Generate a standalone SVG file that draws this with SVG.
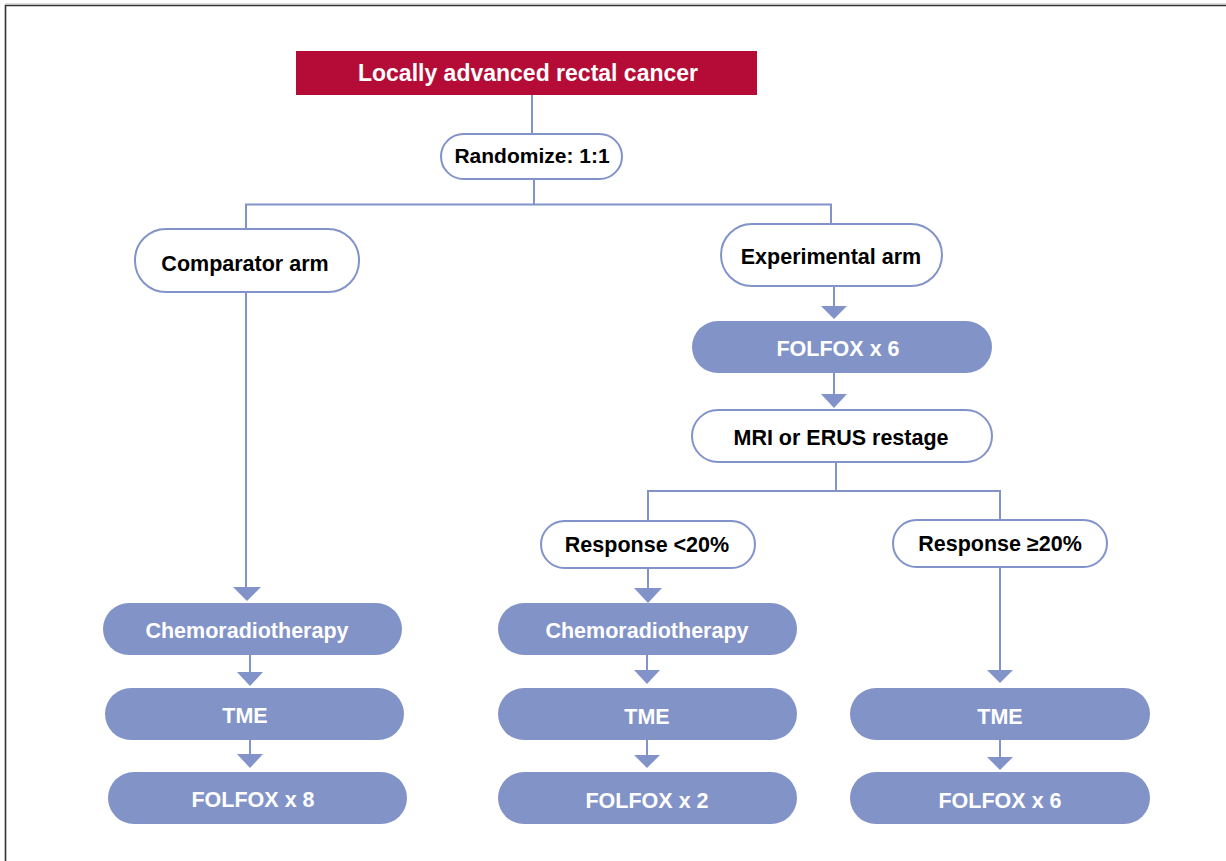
<svg xmlns="http://www.w3.org/2000/svg" width="1226" height="861" viewBox="0 0 1226 861">
<defs>
<style>
.frame{stroke:#333;stroke-width:1.6;fill:none}
.ln{stroke:#8193c9;stroke-width:2;fill:none}
.ah{fill:#8193c9}
.out{fill:#fff;stroke:#8193c9;stroke-width:2}
.fill{fill:#8293c8}
.red{fill:#b40c37}
text{font-family:"Liberation Sans",Arial,sans-serif;font-weight:bold;text-anchor:middle}
.tb{fill:#000;font-size:21.5px}
.tw{fill:#fff;font-size:21.5px}
</style>
</defs>
<rect width="1226" height="861" fill="#fff"/>
<line x1="5" y1="3.8" x2="1226" y2="3.8" stroke="#ccc" stroke-width="1"/>
<path class="frame" d="M5.5,861 V5.5 H1226"/>

<g id="connectors">
<path class="ln" d="M532,95 V134"/>
<path class="ln" d="M534,179 V204.5"/>
<path class="ln" d="M246,229 V204.5 H831 V224"/>
<path class="ln" d="M246,292 V588"/>
<polygon class="ah" points="233,587 261,587 247,601"/>
<path class="ln" d="M250,655 V673"/>
<polygon class="ah" points="237,672 263,672 250,686"/>
<path class="ln" d="M250,740 V755"/>
<polygon class="ah" points="237,754 263,754 250,768"/>
<path class="ln" d="M834,286 V307"/>
<polygon class="ah" points="821,306 847,306 834,319"/>
<path class="ln" d="M834,373 V395"/>
<polygon class="ah" points="821,394 847,394 834,408"/>
<path class="ln" d="M836,462 V491"/>
<path class="ln" d="M648,521 V491 H1000 V520"/>
<path class="ln" d="M648,568 V589"/>
<polygon class="ah" points="634,588 662,588 648,603"/>
<path class="ln" d="M647,655 V671"/>
<polygon class="ah" points="634,670 660,670 647,684"/>
<path class="ln" d="M647,740 V756"/>
<polygon class="ah" points="634,755 660,755 647,768"/>
<path class="ln" d="M1000,567 V671"/>
<polygon class="ah" points="987,670 1013,670 1000,683"/>
<path class="ln" d="M1000,740 V758"/>
<polygon class="ah" points="987,757 1013,757 1000,770"/>
</g>

<g id="n-title">
<rect class="red" x="296" y="51" width="461" height="44"/>
<text x="528" y="81" fill="#fff" style="font-size:23px">Locally advanced rectal cancer</text>
</g>
<g id="n-randomize">
<rect class="out" x="441" y="134" width="181" height="45" rx="22.5"/>
<text class="tb" x="532" y="163" style="font-size:21px">Randomize: 1:1</text>
</g>
<g id="n-comparator">
<rect class="out" x="135" y="229" width="224" height="63" rx="31"/>
<text class="tb" x="245" y="270.5">Comparator arm</text>
</g>
<g id="n-experimental">
<rect class="out" x="721" y="224" width="221" height="62" rx="31"/>
<text class="tb" x="831" y="263.5">Experimental arm</text>
</g>
<g id="n-folfox6a">
<rect class="fill" x="692" y="321" width="300" height="52" rx="26"/>
<text class="tw" x="838" y="355.5">FOLFOX x 6</text>
</g>
<g id="n-mri">
<rect class="out" x="692" y="410" width="300" height="52" rx="26"/>
<text class="tb" x="841" y="444.5">MRI or ERUS restage</text>
</g>
<g id="n-resp-lt">
<rect class="out" x="541" y="521" width="214" height="47" rx="23.5"/>
<text class="tb" x="647" y="551.5">Response &lt;20%</text>
</g>
<g id="n-resp-ge">
<rect class="out" x="893" y="520" width="214" height="47" rx="23.5"/>
<text class="tb" x="1000" y="550.5">Response ≥20%</text>
</g>
<g id="n-crt-left">
<rect class="fill" x="103" y="603" width="299" height="52" rx="26"/>
<text class="tw" x="247" y="637.5">Chemoradiotherapy</text>
</g>
<g id="n-tme-left">
<rect class="fill" x="105" y="688" width="299" height="52" rx="26"/>
<text class="tw" x="245" y="722.5">TME</text>
</g>
<g id="n-folfox8">
<rect class="fill" x="108" y="772" width="299" height="52" rx="26"/>
<text class="tw" x="253" y="806.5">FOLFOX x 8</text>
</g>
<g id="n-crt-mid">
<rect class="fill" x="498" y="603" width="299" height="52" rx="26"/>
<text class="tw" x="647" y="637.5">Chemoradiotherapy</text>
</g>
<g id="n-tme-mid">
<rect class="fill" x="498" y="688" width="299" height="52" rx="26"/>
<text class="tw" x="647" y="723.5">TME</text>
</g>
<g id="n-folfox2">
<rect class="fill" x="498" y="772" width="299" height="52" rx="26"/>
<text class="tw" x="647" y="807.5">FOLFOX x 2</text>
</g>
<g id="n-tme-right">
<rect class="fill" x="850" y="688" width="300" height="52" rx="26"/>
<text class="tw" x="1000" y="723.5">TME</text>
</g>
<g id="n-folfox6b">
<rect class="fill" x="850" y="772" width="300" height="52" rx="26"/>
<text class="tw" x="1000" y="807.5">FOLFOX x 6</text>
</g>
</svg>
